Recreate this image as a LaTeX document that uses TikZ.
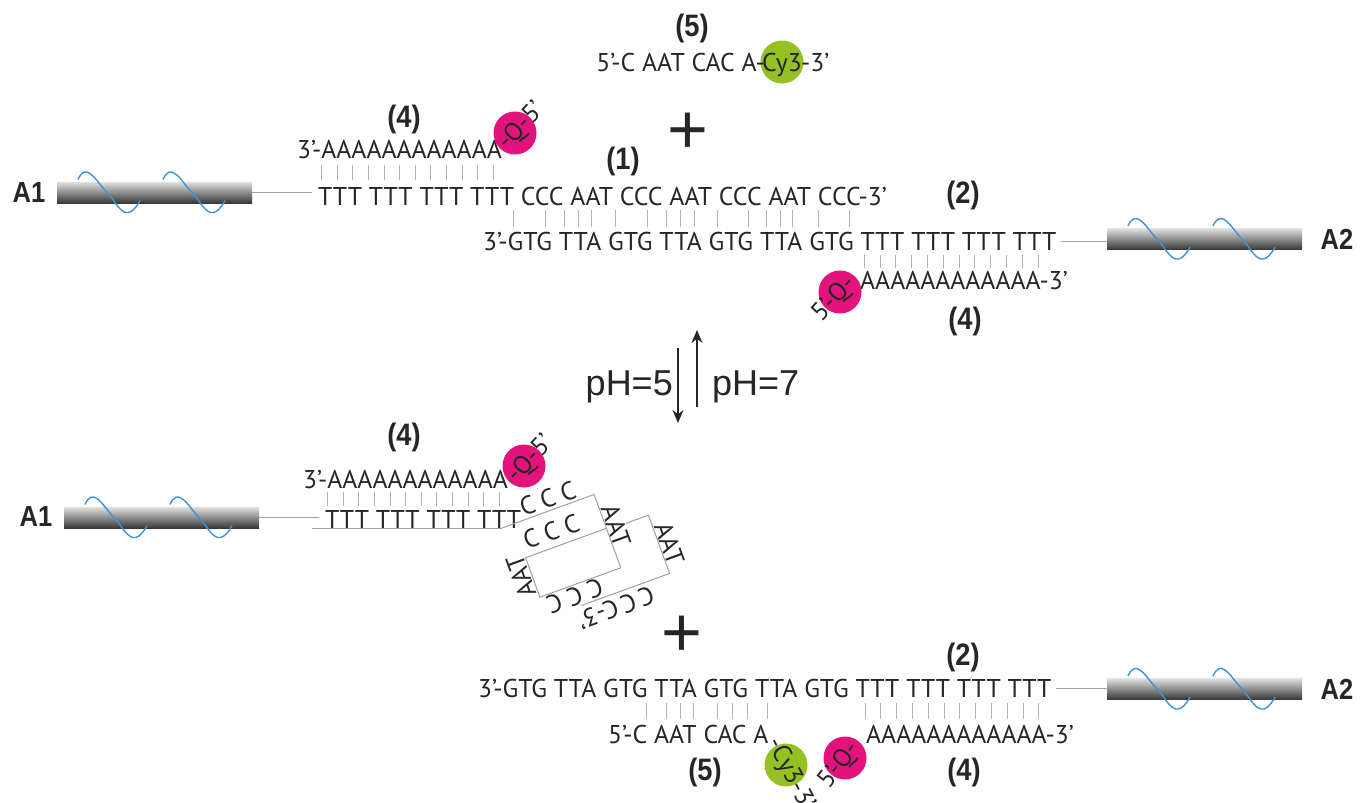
\documentclass[tikz,border=0pt]{standalone}
\usepackage{fontspec}
\setmainfont{PT Sans}
\newfontfamily\lblfont[FakeStretch=0.88]{Liberation Sans}
\newfontfamily\phfont{Liberation Sans}
\usetikzlibrary{arrows.meta,positioning}

\definecolor{ink}{RGB}{38,38,38}
\definecolor{helixblue}{RGB}{62,146,216}
\definecolor{quencher}{RGB}{228,18,124}
\definecolor{cythree}{RGB}{150,193,36}
\definecolor{pairgray}{RGB}{178,178,178}

% the DNA helix wound round a rod
\tikzset{
  helix/.pic={
    \draw[helixblue, line width=1.4pt] plot[smooth, tension=0.8] coordinates
      {(-76.5,-13) (-66.5,-20) (-47.5,0) (-28.5,20) (-14.5,8)};
    \draw[helixblue, line width=1.4pt] plot[smooth, tension=0.8] coordinates
      {(8.5,-13) (18.5,-20) (37.5,0) (56.5,20) (70.5,8)};
  }
}

\begin{document}
\begin{tikzpicture}[
    x=1pt, y=-1pt,
    seq/.style={font=\fontsize{25.7}{30}\selectfont, text=ink, inner sep=0pt},
    num/.style={font=\lblfont\bfseries\fontsize{31}{36}\selectfont, text=ink, inner sep=0pt},
    tag/.style={font=\lblfont\bfseries\fontsize{29}{32}\selectfont, text=ink, inner sep=0pt},
    ph/.style={font=\phfont\fontsize{36}{40}\selectfont, text=ink, inner sep=0pt},
    plus/.style={font=\phfont\fontsize{70}{70}\selectfont, text=ink, inner sep=0pt},
    rod/.style={rectangle, minimum width=195pt, minimum height=21pt, inner sep=0pt,
                top color=black!12, bottom color=black!78, draw=none},
    dye/.style={circle, minimum size=43pt, inner sep=0pt, draw=none},
    linker/.style={pairgray!90!black, line width=1pt},
    pair/.style={pairgray, line width=1pt},
    shiftarrow/.style={-{Stealth[length=13pt,width=11pt]}, ink, line width=1.8pt}
]
\useasboundingbox (0,0) rectangle (1361,803);
\fill[white] (0,0) rectangle (1361,803);

%%% neutral pH: duplex (1)/(2) with quencher strands (4) and free probe (5)
\node[num] (n5a) at (692,28) {(5)};
\node[dye, fill=cythree] (cy3a) at (782,62) {};
\node[seq, anchor=base] (cy3atxt) at (782,71) {Cy3};
\node[seq, anchor=base east] (p5a) at (765,71) {5’-C AAT CAC A-};
\node[seq, anchor=base west] (p5aend) at (801,71) {-3’};

\node[num] (n4a) at (404,119) {(4)};
\node[seq, anchor=base east] (q4a) at (502,158) {3’-AAAAAAAAAAAA};
\node[dye, fill=quencher] (qa) at (515,133) {};
\node[seq, rotate=47] (qatxt) at (521.5,126) {-Q-5’};
\node[plus] (plusa) at (688,133) {+};
\node[num] (n1) at (623,161) {(1)};

\node[rod] (rodA1) at (154.5,192.5) {};
\pic at (rodA1.center) {helix};
\node[tag] (A1) at (29,193) {A1};
\node[seq, anchor=base west] (s1) at (318,205)
  {TTT TTT TTT TTT CCC AAT CCC AAT CCC AAT CCC-3’};
\draw[linker, shorten >=6pt] (rodA1.east) -- (rodA1.east -| s1.west);

\foreach \x in {321.7,337.3,352.9,368.5,384.1,399.7,415.3,430.9,446.5,462.1,477.7,493.3}
  \draw[pair] (\x,165) -- (\x,180);
\foreach \x in {513.4,545.2,564.3,578.5,591.8,615.6,647.3,666.5,680.6,694,717,748.8,766,780,792.8,818.4,849.4}
  \draw[pair] (\x,210) -- (\x,227);

\node[seq, anchor=base west] (s2a) at (483,250)
  {3’-GTG TTA GTG TTA GTG TTA GTG TTT TTT TTT TTT};
\node[num] (n2a) at (963,195) {(2)};
\node[rod] (rodA2) at (1204.5,239) {};
\pic at (rodA2.center) {helix};
\node[tag] (A2) at (1337,239) {A2};
\draw[linker, shorten <=4pt] (s2a.east) -- (s2a.east -| rodA2.west);

\foreach \i in {0,...,11}
  \draw[pair] ({864.3+15.8*\i},255) -- ({864.3+15.8*\i},268);
\node[seq, anchor=base west] (q4b) at (860,289) {AAAAAAAAAAAA-3’};
\node[dye, fill=quencher] (qb) at (840,292) {};
\node[seq, rotate=47] (qbtxt) at (834,299) {5’-Q-};
\node[num] (n4b) at (965,321) {(4)};

%%% pH switch
\coordinate (acidTop) at (678,348);
\coordinate (acidEnd) at (678,423);
\coordinate (neutTop) at (697,330);
\coordinate (neutEnd) at (697,407);
\draw[shiftarrow] (acidTop) -- (acidEnd);
\draw[shiftarrow] (neutEnd) -- (neutTop);
\node[ph, anchor=base east] (ph5) at (673,395) {pH=5};
\node[ph, anchor=base west] (ph7) at (712,395) {pH=7};

%%% acidic pH: i-motif on A1, probe (5) displaces quencher on A2
\node[num] (n4c) at (404,437) {(4)};
\node[seq, anchor=base east] (q4c) at (508,488) {3’-AAAAAAAAAAAA};
\node[dye, fill=quencher] (qc) at (524,466) {};
\node[seq, rotate=47] (qctxt) at (530.5,459) {-Q-5’};
\foreach \i in {0,...,11}
  \draw[pair] ({327.7+15.6*\i},492) -- ({327.7+15.6*\i},506);

\node[rod] (rodA1c) at (161.5,517.5) {};
\pic at (rodA1c.center) {helix};
\node[tag] (A1c) at (36,517) {A1};
\node[seq, anchor=base west] (s1c) at (325,528) {TTT TTT TTT TTT};
\draw[linker, shorten >=6pt] (rodA1c.east) -- (rodA1c.east -| s1c.west);
\draw[linker] (312,528) -- (502,528);

% folded C-rich part
\begin{scope}[shift={(502,528)}, rotate=20]
  \draw[linker] (0,0) -- (98,0) -- (98,78);
  \draw[linker] (98,36) -- (12,36) -- (12,78) -- (98,78);
  \draw[linker] (118,38) -- (142,38) -- (142,100) -- (48,100);
  \node[seq, rotate=20] (c1) at (53,-12) {C C C};
  \node[seq, rotate=20] (c2) at (45,20) {C C C};
  \node[seq, rotate=110] (loop1) at (1,52) {AAT};
  \node[seq, rotate=200] (c3) at (45,89) {C C C};
  \node[seq, rotate=-70] (loop2) at (108,37) {AAT};
  \node[seq, rotate=-70] (loop3) at (152,72) {AAT};
  \node[seq, rotate=200] (c4) at (80,114) {C\,C\,C-3’};
\end{scope}

\node[plus] (plusb) at (682,636) {+};
\node[num] (n2b) at (963,657) {(2)};
\node[seq, anchor=base west] (s2b) at (478,697)
  {3’-GTG TTA GTG TTA GTG TTA GTG TTT TTT TTT TTT};
\node[rod] (rodA2b) at (1204.5,689) {};
\pic at (rodA2b.center) {helix};
\node[tag] (A2b) at (1337,689) {A2};
\draw[linker, shorten <=4pt] (s2b.east) -- (s2b.east -| rodA2b.west);

\foreach \x in {646,666,680,693,717,732,747,767}
  \draw[pair] (\x,703) -- (\x,719);
\foreach \i in {0,...,11}
  \draw[pair] ({865+15.8*\i},703) -- ({865+15.8*\i},719);

\node[seq, anchor=base west] (p5b) at (608,743) {5’-C AAT CAC A};
\node[dye, fill=cythree] (cy3b) at (786,765) {};
\node[seq, rotate=-63] (cy3btxt) at (790,774) {-Cy3-3’};
\node[dye, fill=quencher] (qd) at (845,758) {};
\node[seq, rotate=53] (qdtxt) at (839.6,765) {5’-Q-};
\node[seq, anchor=base west] (q4d) at (866,743) {AAAAAAAAAAAA-3’};
\node[num] (n5b) at (705,772) {(5)};
\node[num] (n4d) at (964,772) {(4)};
\end{tikzpicture}
\end{document}
